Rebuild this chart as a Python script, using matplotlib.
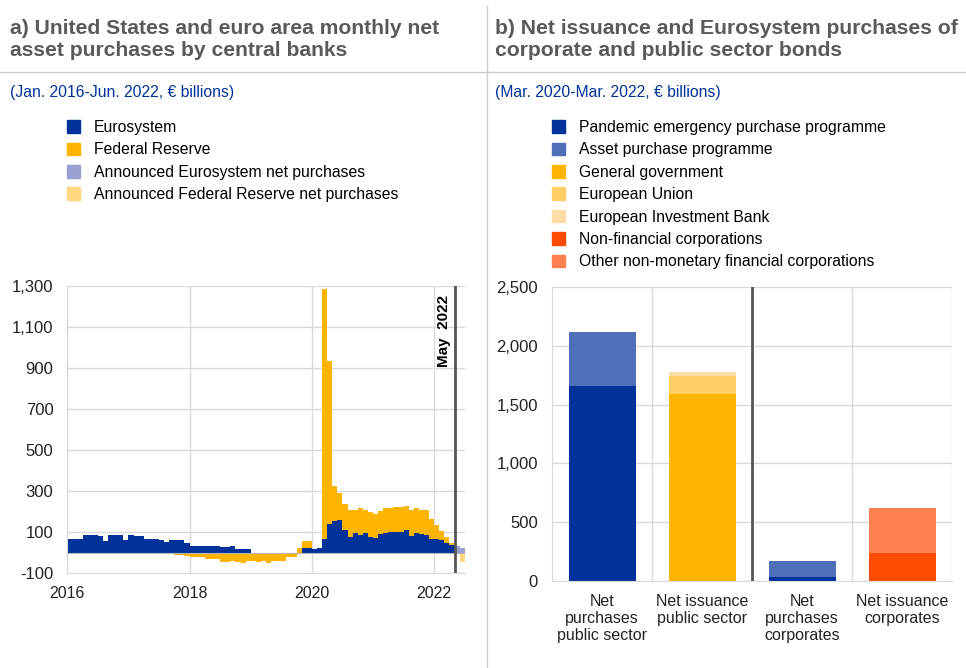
import numpy as np
import matplotlib
matplotlib.use("Agg")
import matplotlib.pyplot as plt
from matplotlib.patches import Patch
from matplotlib.lines import Line2D

plt.rcParams['font.family'] = ['Liberation Sans', 'DejaVu Sans']

# ---- panel a: monthly net asset purchases, Jan 2016 - Jun 2022 (EUR bn)
eurosystem = [
    65, 65, 65, 85, 85, 85, 79, 56, 85, 85, 85, 60,          # 2016
    85, 79, 79, 65, 65, 65, 61, 52, 63, 63, 63, 48,          # 2017
    31, 30, 30, 30, 30, 30, 27, 27, 31, 16, 16, 16,          # 2018
    0, 0, 0, 0, 0, 0, 0, 0, 0, 0, 22, 20,                    # 2019
    18, 22, 65, 140, 153, 157, 108, 76, 97, 84, 95, 76,      # 2020
    73, 92, 97, 100, 100, 100, 110, 81, 94, 89, 87, 68,      # 2021
    68, 61, 48, 37, 0, 0,                                    # 2022
]
fed = [
    0, 0, 0, 0, 0, 0, 0, 0, 0, 0, 0, 0,
    0, 0, 0, 0, 0, 0, 0, 0, 0, -10, -10, -15,
    -23, -23, -23, -32, -32, -32, -44, -44, -40, -47, -52, -40,
    -40, -47, -40, -52, -40, -40, -40, -24, -24, 24, 33, 36,
    0, 0, 1222, 795, 173, 133, 129, 129, 109, 131, 110, 122,
    117, 110, 118, 118, 121, 121, 117, 125, 121, 119, 118, 93,
    66, 44, 29, 11, 0, 0,
]
announced_months = [76, 77]          # May 2022, Jun 2022
announced_euro = [30, 20]
announced_fed = [0, -47]
year_ticks = [0, 24, 48, 72]
year_labels = ["2016", "2018", "2020", "2022"]

# ---- panel b
categories = ["Net\npurchases\npublic sector", "Net issuance\npublic sector",
              "Net\npurchases\ncorporates", "Net issuance\ncorporates"]
pepp = [1660, 0, 34, 0]
app = [454, 0, 139, 0]
gen_gov = [0, 1592, 0, 0]
eu = [0, 153, 0, 0]
eib = [0, 34, 0, 0]
nfc = [0, 0, 0, 238]
other_fc = [0, 0, 0, 383]

BLUE = "#003299"
YELLOW = "#ffb400"
GRID = "#d9d9d9"
TITLE = "#5a5a5a"
SUB = "#003299"

fig = plt.figure(figsize=(9.66, 6.68), dpi=100)

# titles and separators
fig.text(10 / 966, 1 - 19 / 668, "a) United States and euro area monthly net\nasset purchases by central banks",
         fontsize=15.2, fontweight="bold", color=TITLE, va="top", ha="left", linespacing=1.17)
fig.text(495 / 966, 1 - 19 / 668, "b) Net issuance and Eurosystem purchases of\ncorporate and public sector bonds",
         fontsize=15.2, fontweight="bold", color=TITLE, va="top", ha="left", linespacing=1.17)
fig.text(10 / 966, 1 - 93 / 668, "(Jan. 2016-Jun. 2022, € billions)", fontsize=11.3, color=SUB, va="center")
fig.text(495 / 966, 1 - 93 / 668, "(Mar. 2020-Mar. 2022, € billions)", fontsize=11.3, color=SUB, va="center")
fig.add_artist(Line2D([0, 1], [1 - 72 / 668] * 2, color="#cccccc", lw=1, transform=fig.transFigure))
fig.add_artist(Line2D([487 / 966] * 2, [0, 1 - 6 / 668], color="#cccccc", lw=1, transform=fig.transFigure))

# ---- panel a
ax = fig.add_axes([67.3 / 966, 1 - 573 / 668, (464.7 - 67.3) / 966, (573 - 286) / 668])
x = np.arange(len(eurosystem))
euro = np.array(eurosystem)
fd = np.array(fed)
ax.bar(x, euro, width=1, align="edge", color=BLUE, zorder=2)
ax.bar(x, fd, width=1, align="edge", bottom=np.where(fd > 0, euro, 0), color=YELLOW, zorder=2)
ax.bar(announced_months, announced_euro, width=1, align="edge", color="#98a1d0", zorder=2)
ax.bar(announced_months, announced_fed, width=1, align="edge", color="#ffd880", zorder=2)
ax.axhline(0, color="#b4b4b4", lw=0.8, zorder=3)
ax.set_xlim(0, len(eurosystem))
ax.set_ylim(-100, 1300)
ax.set_yticks(np.arange(-100, 1301, 200))
ax.set_yticklabels([f"{v:,}" for v in range(-100, 1301, 200)])
ax.set_xticks(year_ticks)
ax.set_xticklabels(year_labels)
ax.grid(True, color=GRID, lw=1, zorder=0)
ax.set_axisbelow(True)
for s in ["top", "right"]:
    ax.spines[s].set_visible(False)
for s in ["left", "bottom"]:
    ax.spines[s].set_color(GRID)
ax.tick_params(axis="y", length=0, labelsize=12, colors="#222222", pad=10)
ax.tick_params(axis="x", length=0, labelsize=11.5, colors="#222222", pad=9)
ax.axvline(76, color="#555555", lw=2, zorder=4)
ax.text(73.9, 1255, "May  2022", rotation=90, ha="center", va="top", fontsize=11, fontweight="bold")

fig.legend(handles=[Patch(color=BLUE), Patch(color=YELLOW), Patch(color="#98a1d0"), Patch(color="#ffd880")],
           labels=["Eurosystem", "Federal Reserve", "Announced Eurosystem net purchases",
                   "Announced Federal Reserve net purchases"],
           loc="upper left", bbox_to_anchor=(67 / 966, 1 - 120 / 668), frameon=False, fontsize=11.3,
           handlelength=0.85, handleheight=0.85, handletextpad=0.85, labelspacing=0.47,
           borderpad=0, borderaxespad=0)

# ---- panel b
bx = fig.add_axes([552 / 966, 1 - 581 / 668, 400 / 966, (581 - 287) / 668])
pos = np.arange(len(categories))
bottom = np.zeros(len(categories))
series = [(pepp, BLUE), (app, "#4f6fb8"), (gen_gov, YELLOW), (eu, "#ffcf66"),
          (eib, "#fddca8"), (nfc, "#ff4b00"), (other_fc, "#ff8050")]
for vals, col in series:
    bx.bar(pos, vals, width=0.67, bottom=bottom, color=col, zorder=2)
    bottom += np.array(vals)
bx.set_xlim(-0.5, 3.5)
bx.set_ylim(0, 2500)
bx.set_yticks(np.arange(0, 2501, 500))
bx.set_yticklabels([f"{v:,}" for v in range(0, 2501, 500)])
bx.set_xticks(pos)
bx.set_xticklabels(categories, linespacing=1.17)
bx.yaxis.grid(True, color=GRID, lw=1, zorder=0)
for b in [0.5, 2.5, 3.5]:
    bx.axvline(b, color=GRID, lw=1, zorder=0)
bx.axvline(1.5, color="#555555", lw=2, zorder=4)
bx.set_axisbelow(True)
for s in ["top", "right"]:
    bx.spines[s].set_visible(False)
for s in ["left", "bottom"]:
    bx.spines[s].set_color(GRID)
bx.tick_params(axis="y", length=0, labelsize=12, colors="#222222", pad=10)
bx.tick_params(axis="x", length=0, labelsize=11.5, colors="#222222", pad=9)

fig.legend(handles=[Patch(color=c) for _, c in series],
           labels=["Pandemic emergency purchase programme", "Asset purchase programme", "General government",
                   "European Union", "European Investment Bank", "Non-financial corporations",
                   "Other non-monetary financial corporations"],
           loc="upper left", bbox_to_anchor=(552 / 966, 1 - 120 / 668), frameon=False, fontsize=11.3,
           handlelength=0.85, handleheight=0.85, handletextpad=0.85, labelspacing=0.47,
           borderpad=0, borderaxespad=0)

fig.savefig("out.png", dpi=100)
